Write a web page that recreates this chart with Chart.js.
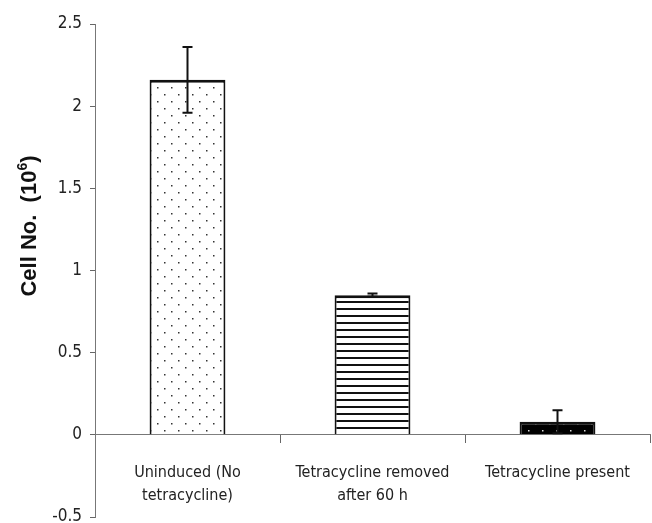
<!DOCTYPE html>
<html>
<head>
<meta charset="utf-8">
<script src="https://cdn.jsdelivr.net/npm/chart.js@4/dist/chart.umd.min.js"></script>
<style>
html,body{margin:0;padding:0;background:#fff;}
#wrap{width:652px;height:523px;position:relative;}
</style>
</head>
<body>
<div id="wrap"><canvas id="c" width="652" height="523"></canvas></div>
<script>
const categories = [["Uninduced (No", "tetracycline)"], ["Tetracycline removed", "after 60 h"], ["Tetracycline present"]];
const cellCounts = [2.16, 0.85, 0.08];
const errorValues = [0.2, 0.01, 0.07];
const yTickValues = [-0.5, 0, 0.5, 1, 1.5, 2, 2.5];
const yTickLabels = ["-0.5", "0", "0.5", "1", "1.5", "2", "2.5"];
const yTitle = "Cell No.  (10";
const yTitleSup = "6";

const NARROW = "'Liberation Sans Narrow', 'DejaVu Sans Condensed', 'Arial Narrow', sans-serif";

function makePattern(kind) {
  const t = document.createElement('canvas');
  const g = t.getContext('2d');
  if (kind === 'dots') {
    t.width = 14; t.height = 14;
    g.fillStyle = '#fff'; g.fillRect(0,0,14,14);
    g.fillStyle = '#333';
    g.fillRect(3,3,1.5,1.5); g.fillRect(10,10,1.5,1.5);
  } else if (kind === 'lines') {
    t.width = 8; t.height = 7;
    g.fillStyle = '#fff'; g.fillRect(0,0,8,7);
    g.fillStyle = '#111';
    g.fillRect(0,0,8,2);
  } else {
    t.width = 14; t.height = 14;
    g.fillStyle = '#000'; g.fillRect(0,0,14,14);
    g.fillStyle = '#ddd';
    g.fillRect(3,3,1.5,1.5); g.fillRect(10,10,1.5,1.5);
  }
  return g.createPattern(t, 'repeat');
}

const errorBarPlugin = {
  id: 'errorBars',
  afterDatasetsDraw(chart) {
    const ctx = chart.ctx;
    const meta = chart.getDatasetMeta(0);
    const ys = chart.scales.y;
    ctx.save();
    ctx.strokeStyle = '#111';
    ctx.lineWidth = 2;
    meta.data.forEach((bar, i) => {
      const v = cellCounts[i], e = errorValues[i];
      const yt = ys.getPixelForValue(v + e);
      const yb = ys.getPixelForValue(Math.max(v - e, 0));
      const x = bar.x;
      ctx.beginPath();
      ctx.moveTo(x, yt); ctx.lineTo(x, yb);
      ctx.moveTo(x - 5, yt); ctx.lineTo(x + 5, yt);
      if (v - e > 0) { ctx.moveTo(x - 5, yb); ctx.lineTo(x + 5, yb); }
      ctx.stroke();
    });
    ctx.restore();
  }
};

const yTitlePlugin = {
  id: 'yTitle',
  afterDraw(chart) {
    const ctx = chart.ctx;
    ctx.save();
    const f = "bold 22px 'Liberation Sans', Arial, sans-serif";
    const fs = "bold 14px 'Liberation Sans', Arial, sans-serif";
    ctx.font = f;
    const w1 = ctx.measureText(yTitle).width;
    ctx.font = fs;
    const w2 = ctx.measureText(yTitleSup).width;
    ctx.font = f;
    const w3 = ctx.measureText(")").width;
    const total = w1 + w2 + w3;
    ctx.translate(36, 226);
    ctx.rotate(-Math.PI / 2);
    ctx.fillStyle = '#111';
    ctx.textBaseline = 'alphabetic';
    let x = -total / 2;
    ctx.font = f; ctx.fillText(yTitle, x, 0); x += w1;
    ctx.font = fs; ctx.fillText(yTitleSup, x, -9); x += w2;
    ctx.font = f; ctx.fillText(")", x, 0);
    ctx.restore();
  }
};

const ctx = document.getElementById('c').getContext('2d');
new Chart(ctx, {
  type: 'bar',
  data: {
    labels: categories,
    datasets: [{
      data: cellCounts,
      backgroundColor: [makePattern('dots'), makePattern('lines'), makePattern('dark')],
      borderColor: '#111',
      borderWidth: { top: 3, left: 2, right: 2, bottom: 0 },
      borderSkipped: 'bottom',
      barPercentage: 0.41,
      categoryPercentage: 1.0
    }]
  },
  options: {
    responsive: false,
    animation: false,
    devicePixelRatio: 1,
    layout: { padding: { left: 0, top: 24, right: 2, bottom: 6 } },
    plugins: { legend: { display: false }, tooltip: { enabled: false } },
    scales: {
      y: {
        min: -0.5, max: 2.5,
        afterFit(scale) { scale.width = 95; scale.paddingTop = 0; scale.paddingBottom = 0; },
        afterBuildTicks(scale) { scale.ticks = yTickValues.map(v => ({ value: v })); },
        grid: { drawOnChartArea: false, tickLength: 5, color: '#666' },
        border: { color: '#777', width: 1 },
        ticks: {
          padding: 8, color: '#222', font: { family: NARROW, size: 17 },
          callback: (v) => yTickLabels[yTickValues.indexOf(v)] ?? String(v)
        }
      },
      x: {
        position: { y: 0 },
        offset: true,
        afterFit(scale) { scale.height = 0; scale.paddingTop = 0; scale.paddingBottom = 0; },
        grid: { drawOnChartArea: false, offset: true, tickLength: 8, color: '#666' },
        border: { color: '#777', width: 1 },
        ticks: { padding: 18, color: '#222', maxRotation: 0, autoSkip: false, font: { family: NARROW, size: 16, lineHeight: 1.45 } }
      }
    }
  },
  plugins: [errorBarPlugin, yTitlePlugin]
});
</script>
</body>
</html>
